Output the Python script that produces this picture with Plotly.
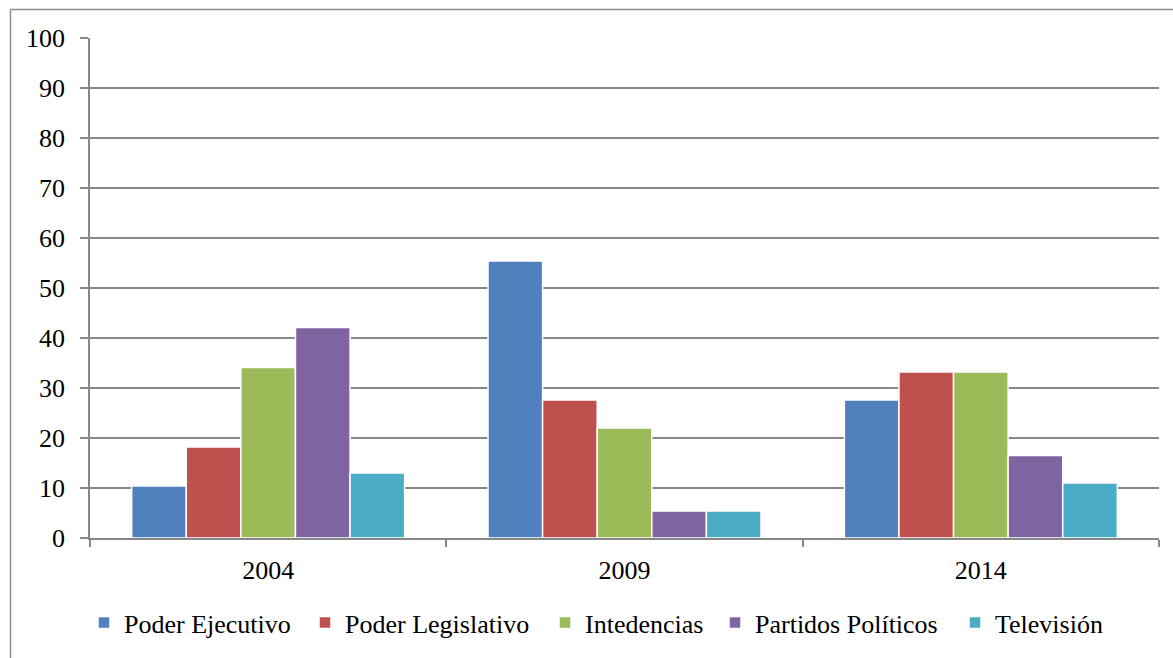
import plotly.graph_objects as go

years = ["2004", "2009", "2014"]
series_names = ["Poder Ejecutivo", "Poder Legislativo", "Intedencias", "Partidos Políticos", "Televisión"]
poder_ejecutivo = [10.4, 55.4, 27.6]
poder_legislativo = [18.2, 27.6, 33.2]
intedencias = [34.1, 22.0, 33.2]
partidos_politicos = [42.1, 5.4, 16.5]
television = [13.0, 5.4, 11.0]
y_ticks = [0, 10, 20, 30, 40, 50, 60, 70, 80, 90, 100]

values = [poder_ejecutivo, poder_legislativo, intedencias, partidos_politicos, television]
colors = ["#4F81BD", "#C0504D", "#9BBB59", "#8064A2", "#4BACC6"]

W, H = 1173, 658
L, R, T, B = 90, 14, 38, 118
pw = W - L - R
ph = H - T - B

def px_to_xpaper(px):
    return (px - L) / pw

def py_to_ypaper(py):
    return (H - B - py) / ph

font_family = "Liberation Serif"
grid_col = "#878787"
fsize = 26

# legend text start positions (pixels) for each entry
legend_text_x = [122, 343, 583, 753, 993]
legend_y_px = 625

fig = go.Figure()
legend_layout = {}
for i, (name, vals, col) in enumerate(zip(series_names, values, colors)):
    lname = "legend" if i == 0 else f"legend{i + 1}"
    fig.add_trace(go.Bar(
        x=years, y=vals, name=name, legend=lname,
        marker=dict(color=col, line=dict(color="white", width=1.5)),
    ))
    legend_layout[lname] = dict(
        orientation="h", x=px_to_xpaper(legend_text_x[i] - 38), xanchor="left",
        y=py_to_ypaper(legend_y_px), yanchor="middle",
        font=dict(size=fsize, family=font_family, color="black"),
        bgcolor="rgba(0,0,0,0)", borderwidth=0, itemwidth=30,
    )

fig.update_layout(
    width=W, height=H,
    margin=dict(l=L, r=R, t=T, b=B, pad=0),
    paper_bgcolor="white", plot_bgcolor="white",
    barmode="group", bargap=0.234, bargroupgap=0,
    font=dict(family=font_family, size=fsize, color="black"),
    showlegend=True,
    xaxis=dict(type="category", showgrid=False, showline=True, linecolor=grid_col, linewidth=1.5,
               ticks="outside", tickson="boundaries", ticklen=7, tickcolor=grid_col, tickwidth=1.5,
               tickfont=dict(size=fsize, family=font_family), ticklabelstandoff=8),
    yaxis=dict(range=[0, 100], tickvals=y_ticks, showgrid=True, gridcolor=grid_col, gridwidth=1.5,
               showline=True, linecolor=grid_col, linewidth=1.5, zeroline=False,
               ticks="outside", ticklen=8, tickcolor=grid_col, tickwidth=1.5,
               tickfont=dict(size=fsize, family=font_family), ticklabelstandoff=10),
    **legend_layout,
)

border_col = "#8C8C8C"
fig.add_shape(type="line", xref="paper", yref="paper",
              x0=px_to_xpaper(10.5), x1=px_to_xpaper(10.5), y0=py_to_ypaper(9.5), y1=py_to_ypaper(700),
              line=dict(color=border_col, width=1.5))
fig.add_shape(type="line", xref="paper", yref="paper",
              x0=px_to_xpaper(10.5), x1=px_to_xpaper(1200), y0=py_to_ypaper(9.5), y1=py_to_ypaper(9.5),
              line=dict(color=border_col, width=1.5))

fig.write_html("out.html")
